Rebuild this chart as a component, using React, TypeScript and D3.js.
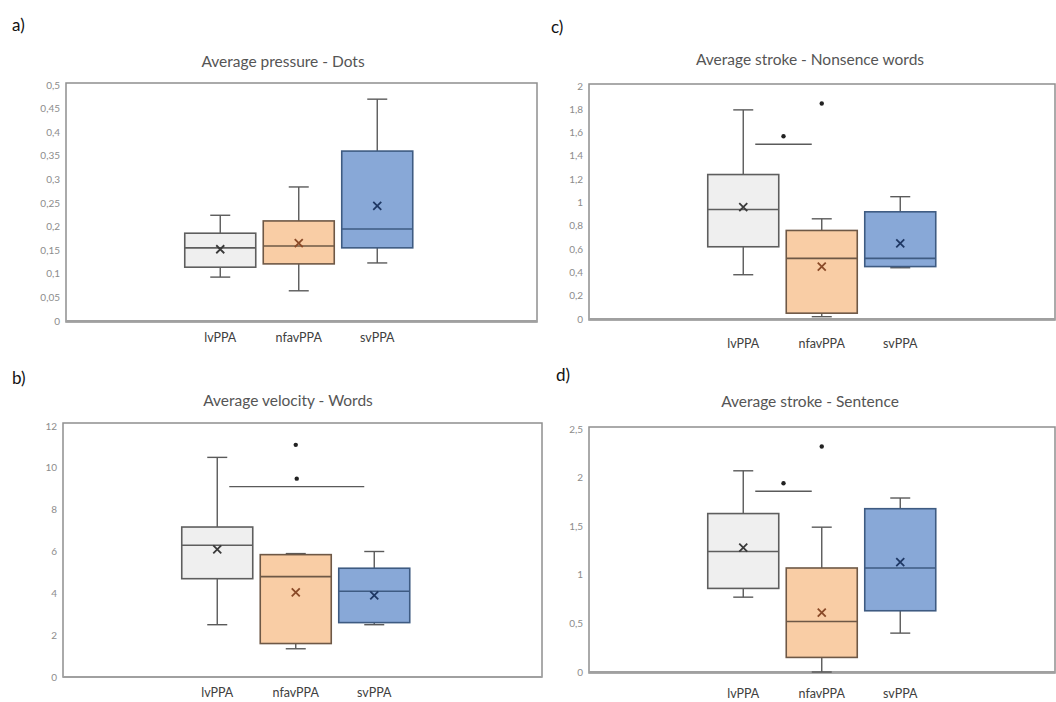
import React from "react";
import * as d3 from "d3";

const groups = ["lvPPA", "nfavPPA", "svPPA"];

// a) Average pressure - Dots
const pressureMin = [0.093, 0.064, 0.123];
const pressureQ1 = [0.114, 0.121, 0.155];
const pressureMedian = [0.155, 0.159, 0.195];
const pressureQ3 = [0.186, 0.212, 0.36];
const pressureMax = [0.224, 0.284, 0.47];
const pressureMean = [0.152, 0.165, 0.244];
const pressureOutliers: number[][] = [[], [], []];
const pressureTicks = [0, 0.05, 0.1, 0.15, 0.2, 0.25, 0.3, 0.35, 0.4, 0.45, 0.5];

// b) Average velocity - Words
const velocityMin = [2.5, 1.35, 2.5];
const velocityQ1 = [4.7, 1.6, 2.6];
const velocityMedian = [6.3, 4.8, 4.1];
const velocityQ3 = [7.17, 5.85, 5.2];
const velocityMax = [10.5, 5.9, 6.0];
const velocityMean = [6.1, 4.05, 3.9];
const velocityOutliers: number[][] = [[], [11.1], []];
const velocityTicks = [0, 2, 4, 6, 8, 10, 12];
const velocitySig = { from: 0, to: 2, value: 9.1 };

// c) Average stroke - Nonsence words
const wordsMin = [0.38, 0.02, 0.44];
const wordsQ1 = [0.62, 0.05, 0.45];
const wordsMedian = [0.94, 0.52, 0.52];
const wordsQ3 = [1.24, 0.76, 0.92];
const wordsMax = [1.795, 0.86, 1.05];
const wordsMean = [0.96, 0.45, 0.65];
const wordsOutliers: number[][] = [[], [1.85], []];
const wordsTicks = [0, 0.2, 0.4, 0.6, 0.8, 1, 1.2, 1.4, 1.6, 1.8, 2];
const wordsSig = { from: 0, to: 1, value: 1.5 };

// d) Average stroke - Sentence
const sentenceMin = [0.77, 0.0, 0.4];
const sentenceQ1 = [0.86, 0.15, 0.63];
const sentenceMedian = [1.24, 0.52, 1.07];
const sentenceQ3 = [1.63, 1.07, 1.68];
const sentenceMax = [2.07, 1.49, 1.79];
const sentenceMean = [1.28, 0.61, 1.13];
const sentenceOutliers: number[][] = [[], [2.32], []];
const sentenceTicks = [0, 0.5, 1, 1.5, 2, 2.5];
const sentenceSig = { from: 0, to: 1, value: 1.86 };

const fills = ["#efefef", "#f9cda5", "#88a8d7"];
const strokes = ["#5e5e5e", "#6e5846", "#3e5b82"];
const meanColors = ["#3a3a3a", "#8a4a28", "#1f3864"];

const FONT = "Lato, 'Open Sans', 'Liberation Sans', sans-serif";

type Sig = { from: number; to: number; value: number } | null;

interface PanelProps {
  letter: string;
  letterX: number;
  letterY: number;
  title: string;
  titleX: number;
  titleY: number;
  left: number;
  right: number;
  top: number;
  bottom: number;
  yTop: number;
  yBottom: number;
  labelY: number;
  ticks: number[];
  min: number[];
  q1: number[];
  median: number[];
  q3: number[];
  max: number[];
  mean: number[];
  outliers: number[][];
  sig: Sig;
}

function fmt(v: number) {
  return String(+v.toFixed(3)).replace(".", ",");
}

function Panel(p: PanelProps) {
  const y = d3
    .scaleLinear()
    .domain([0, p.ticks[p.ticks.length - 1]])
    .range([p.yBottom, p.yTop]);
  const step = 78.5;
  const x = d3
    .scaleBand<string>()
    .domain(groups)
    .range([p.left + 115, p.left + 115 + step * groups.length])
    .paddingInner(0)
    .paddingOuter(0);
  const bw = 71;
  const cap = 20;
  const cx = (i: number) => (x(groups[i]) as number) + x.bandwidth() / 2;

  return (
    <g>
      <text x={p.letterX} y={p.letterY} fontSize={17} fill="#111" fontFamily={FONT}>
        {p.letter}
      </text>
      <text
        x={p.titleX}
        y={p.titleY}
        fontSize={15.5}
        fill="#555"
        textAnchor="middle"
        fontFamily={FONT}
      >
        {p.title}
      </text>
      <rect
        x={p.left}
        y={p.top}
        width={p.right - p.left}
        height={p.bottom - p.top}
        fill="#fff"
        stroke="#8f8f8f"
        strokeWidth={1.5}
      />
      <line x1={p.left} x2={p.right} y1={p.yBottom} y2={p.yBottom} stroke="#a0a0a0" strokeWidth={2} />
      {p.ticks.map((t) => (
        <text
          key={t}
          x={p.left - 6}
          y={y(t)}
          dy="0.35em"
          fontSize={10}
          fill="#8c8c8c"
          textAnchor="end"
          fontFamily={FONT}
        >
          {fmt(t)}
        </text>
      ))}
      {groups.map((g, i) => {
        const c = cx(i);
        return (
          <g key={g}>
            <line x1={c} x2={c} y1={y(p.max[i])} y2={y(p.q3[i])} stroke="#5a5a5a" strokeWidth={1.4} />
            <line x1={c} x2={c} y1={y(p.q1[i])} y2={y(p.min[i])} stroke="#5a5a5a" strokeWidth={1.4} />
            <line x1={c - cap / 2} x2={c + cap / 2} y1={y(p.max[i])} y2={y(p.max[i])} stroke="#5a5a5a" strokeWidth={1.4} />
            <line x1={c - cap / 2} x2={c + cap / 2} y1={y(p.min[i])} y2={y(p.min[i])} stroke="#5a5a5a" strokeWidth={1.4} />
            <rect
              x={c - bw / 2}
              y={y(p.q3[i])}
              width={bw}
              height={y(p.q1[i]) - y(p.q3[i])}
              fill={fills[i]}
              stroke={strokes[i]}
              strokeWidth={1.6}
            />
            <line
              x1={c - bw / 2}
              x2={c + bw / 2}
              y1={y(p.median[i])}
              y2={y(p.median[i])}
              stroke={strokes[i]}
              strokeWidth={1.6}
            />
            <path
              d={`M${c - 4},${y(p.mean[i]) - 4}L${c + 4},${y(p.mean[i]) + 4}M${c - 4},${y(p.mean[i]) + 4}L${c + 4},${y(p.mean[i]) - 4}`}
              stroke={meanColors[i]}
              strokeWidth={1.8}
            />
            {p.outliers[i].map((o, k) => (
              <circle key={k} cx={c} cy={y(o)} r={2.2} fill="#222" />
            ))}
            <text
              x={c}
              y={p.labelY}
              fontSize={12.5}
              fill="#404040"
              textAnchor="middle"
              fontFamily={FONT}
            >
              {g}
            </text>
          </g>
        );
      })}
      {p.sig && (
        <g>
          <line
            x1={cx(p.sig.from) + 12}
            x2={cx(p.sig.to) - 10}
            y1={y(p.sig.value)}
            y2={y(p.sig.value)}
            stroke="#5a5a5a"
            strokeWidth={1.4}
          />
          <circle
            cx={(cx(p.sig.from) + 12 + cx(p.sig.to) - 10) / 2}
            cy={y(p.sig.value) - 8}
            r={2.2}
            fill="#222"
          />
        </g>
      )}
    </g>
  );
}

export default function App() {
  return (
    <svg
      width={1056}
      height={702}
      style={{ position: "absolute", left: 0, top: 0, background: "#fff" }}
    >
      <rect width={1056} height={702} fill="#fff" />
      <Panel
        letter="a)"
        letterX={12}
        letterY={31}
        title="Average pressure - Dots"
        titleX={283}
        titleY={67}
        left={66}
        right={537}
        top={83}
        bottom={322}
        yTop={85}
        yBottom={321}
        labelY={342}
        ticks={pressureTicks}
        min={pressureMin}
        q1={pressureQ1}
        median={pressureMedian}
        q3={pressureQ3}
        max={pressureMax}
        mean={pressureMean}
        outliers={pressureOutliers}
        sig={null}
      />
      <Panel
        letter="b)"
        letterX={12}
        letterY={384}
        title="Average velocity - Words"
        titleX={288}
        titleY={406}
        left={63}
        right={542}
        top={423}
        bottom={677}
        yTop={426}
        yBottom={677}
        labelY={697}
        ticks={velocityTicks}
        min={velocityMin}
        q1={velocityQ1}
        median={velocityMedian}
        q3={velocityQ3}
        max={velocityMax}
        mean={velocityMean}
        outliers={velocityOutliers}
        sig={velocitySig}
      />
      <Panel
        letter="c)"
        letterX={551}
        letterY={33}
        title="Average stroke - Nonsence words"
        titleX={810}
        titleY={65}
        left={589}
        right={1055}
        top={84}
        bottom={320}
        yTop={86}
        yBottom={319}
        labelY={348}
        ticks={wordsTicks}
        min={wordsMin}
        q1={wordsQ1}
        median={wordsMedian}
        q3={wordsQ3}
        max={wordsMax}
        mean={wordsMean}
        outliers={wordsOutliers}
        sig={wordsSig}
      />
      <Panel
        letter="d)"
        letterX={556}
        letterY={381}
        title="Average stroke - Sentence"
        titleX={810}
        titleY={407}
        left={589}
        right={1055}
        top={427}
        bottom={673}
        yTop={429}
        yBottom={672}
        labelY={698}
        ticks={sentenceTicks}
        min={sentenceMin}
        q1={sentenceQ1}
        median={sentenceMedian}
        q3={sentenceQ3}
        max={sentenceMax}
        mean={sentenceMean}
        outliers={sentenceOutliers}
        sig={sentenceSig}
      />
    </svg>
  );
}
